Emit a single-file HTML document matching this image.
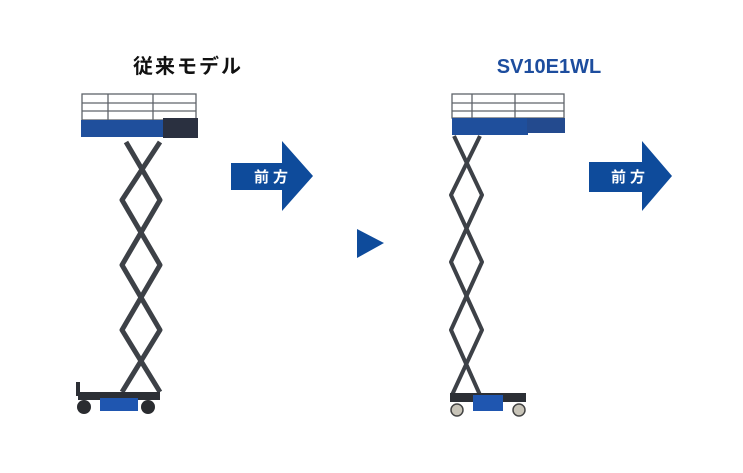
<!DOCTYPE html>
<html><head><meta charset="utf-8"><style>
html,body{margin:0;padding:0;background:#fff;}
svg{display:block}
text{font-family:"Liberation Sans","Noto Sans CJK JP",sans-serif;font-weight:bold}
</style></head><body>
<svg width="743" height="473" viewBox="0 0 743 473" xmlns="http://www.w3.org/2000/svg">
<text x="188" y="73" font-size="20" text-anchor="middle" fill="#111" letter-spacing="2">従来モデル</text>
<text x="549" y="73" font-size="20" text-anchor="middle" fill="#1d4d9e">SV10E1WL</text>

<g fill="#0e4b9b">
<polygon points="231,163 282,163 282,141 313,176 282,211 282,190 231,190"/>
<polygon points="589,162 642,162 642,141 672,176 642,211 642,192 589,192"/>
<polygon points="357,229 384,243 357,258"/>
</g>
<text x="254" y="182" font-size="15" fill="#fff" letter-spacing="4">前方</text>
<text x="611" y="182" font-size="15" fill="#fff" letter-spacing="4">前方</text>

<!-- left lift -->
<g stroke="#5f636a" stroke-width="1.3" fill="none">
<rect x="82" y="94" width="114" height="26"/>
<line x1="82" y1="103" x2="196" y2="103"/><line x1="82" y1="111" x2="196" y2="111"/>
<line x1="108" y1="94" x2="108" y2="120"/><line x1="153" y1="94" x2="153" y2="120"/>
</g>
<rect x="81" y="120" width="84" height="17" fill="#1f4f9c"/>
<rect x="163" y="118" width="35" height="20" fill="#2a3040"/>
<g stroke="#3d4147" stroke-width="5" fill="none" stroke-linejoin="round">
<polyline points="126,142 160,200 122,265 160,330 122,392"/>
<polyline points="160,142 122,200 160,265 122,330 160,392"/>
</g>
<rect x="78" y="392" width="82" height="8" fill="#2c2f35"/>
<rect x="76" y="382" width="4" height="14" fill="#2c2f35"/>
<rect x="100" y="398" width="38" height="13" fill="#1f56b0"/>
<circle cx="84" cy="407" r="7" fill="#2a2c30"/>
<circle cx="148" cy="407" r="7" fill="#2a2c30"/>

<!-- right lift -->
<g stroke="#5f636a" stroke-width="1.3" fill="none">
<rect x="452" y="94" width="112" height="24"/>
<line x1="452" y1="103" x2="564" y2="103"/><line x1="452" y1="111" x2="564" y2="111"/>
<line x1="472" y1="94" x2="472" y2="118"/><line x1="515" y1="94" x2="515" y2="118"/>
</g>
<rect x="452" y="118" width="76" height="17" fill="#1f4f9c"/>
<rect x="527" y="118" width="38" height="15" fill="#234a8e"/>
<g stroke="#3d4147" stroke-width="4" fill="none" stroke-linejoin="round">
<polyline points="454,136 482,195 451,262 482,330 452,395"/>
<polyline points="480,136 451,195 482,262 451,330 480,395"/>
</g>
<rect x="450" y="393" width="76" height="9" fill="#2c2f35"/>
<rect x="473" y="395" width="30" height="16" fill="#1f56b0"/>
<circle cx="457" cy="410" r="6" fill="#c8c4b8" stroke="#444" stroke-width="1.5"/>
<circle cx="519" cy="410" r="6" fill="#c8c4b8" stroke="#444" stroke-width="1.5"/>
</svg>
</body></html>
